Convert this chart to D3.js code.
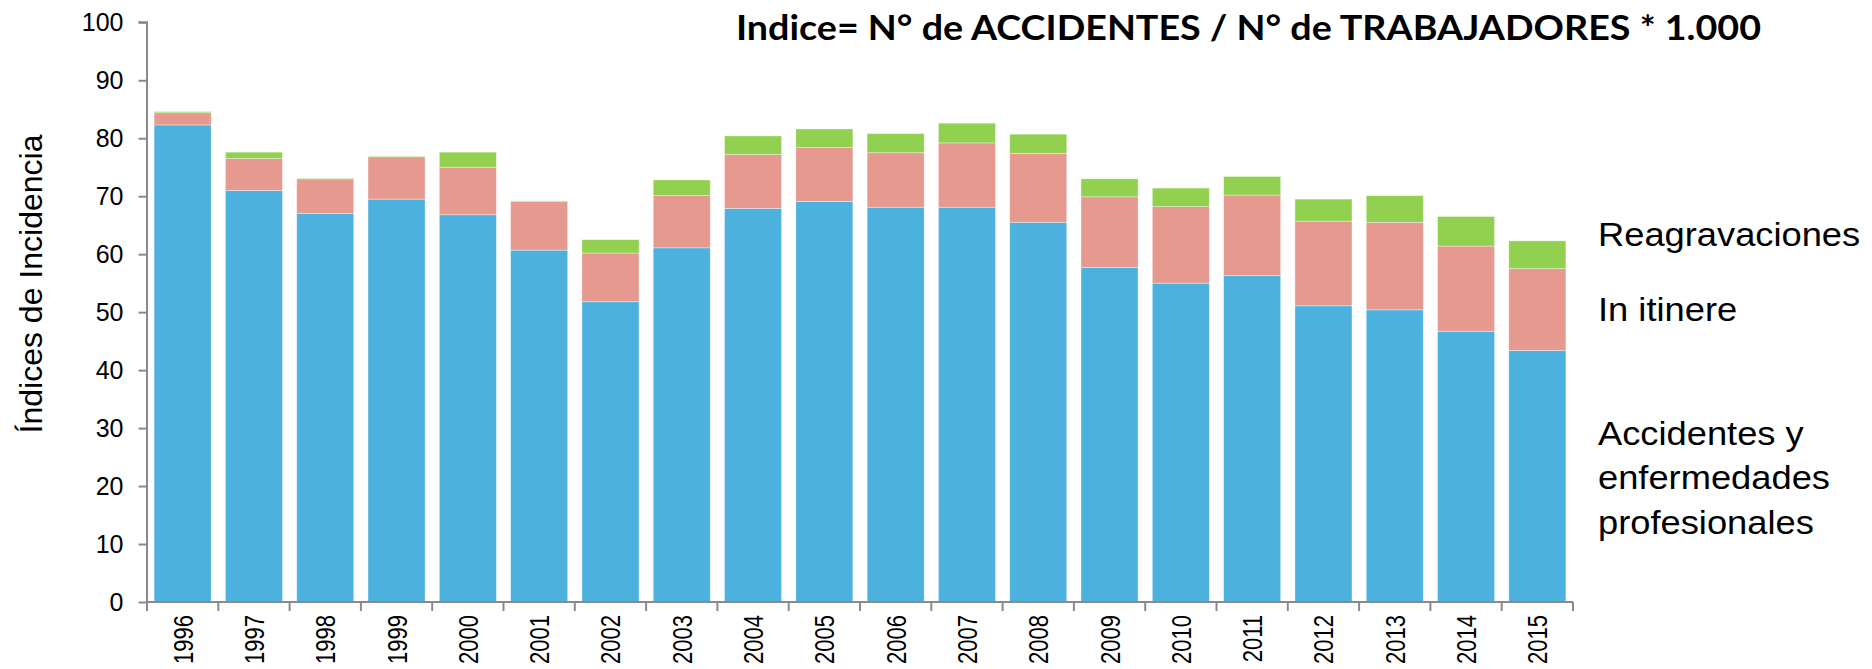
<!DOCTYPE html>
<html>
<head>
<meta charset="utf-8">
<script src="https://cdn.jsdelivr.net/npm/d3@7"></script>
<style>
  html, body { margin: 0; padding: 0; background: #ffffff; }
  svg { display: block; }
  text { font-family: "Liberation Sans", Arial, sans-serif; fill: #000; }
</style>
</head>
<body>
<svg id="chart" width="1872" height="669"></svg>
<script>
// ---- Data ----
const years = ["1996","1997","1998","1999","2000","2001","2002","2003","2004","2005",
               "2006","2007","2008","2009","2010","2011","2012","2013","2014","2015"];
const accidentes = [82.3, 71.0, 67.0, 69.5, 66.8, 60.7, 51.8, 61.1, 67.9, 69.1,
                    68.1, 68.1, 65.5, 57.7, 55.0, 56.3, 51.1, 50.4, 46.7, 43.4];
const itinere    = [2.1, 5.5, 6.0, 7.3, 8.2, 8.4, 8.4, 9.0, 9.3, 9.3,
                    9.4, 11.1, 11.9, 12.2, 13.2, 13.9, 14.6, 15.1, 14.7, 14.1];
const reagrav    = [0.2, 1.1, 0.1, 0.1, 2.6, 0.1, 2.3, 2.7, 3.2, 3.2,
                    3.3, 3.4, 3.3, 3.1, 3.2, 3.2, 3.8, 4.6, 5.1, 4.8];
const seriesKeys = ["accidentes", "itinere", "reagrav"];
const seriesColors = ["#4db1de", "#e6998f", "#92d050"];
const yTicks = [0, 10, 20, 30, 40, 50, 60, 70, 80, 90, 100];
const titleText = "Indice= N° de ACCIDENTES / N° de TRABAJADORES * 1.000";
const yTitle = "Índices de Incidencia";
const legendLabels = [["Reagravaciones"], ["In itinere"], ["Accidentes y", "enfermedades", "profesionales"]];

// ---- Build ----
const svg = d3.select("#chart");
const plotLeft = 147, plotRight = 1573, plotTop = 22.3, plotBottom = 602;

const x = d3.scaleBand().domain(years).range([plotLeft, plotRight]).paddingInner(0.2).paddingOuter(0.1);
const y = d3.scaleLinear().domain([0, 100]).range([plotBottom, plotTop]);

const table = years.map((yr, i) => ({ year: yr, accidentes: accidentes[i], itinere: itinere[i], reagrav: reagrav[i] }));
const stacked = d3.stack().keys(seriesKeys)(table);

svg.append("g").selectAll("g")
  .data(stacked).join("g")
  .attr("fill", (d, i) => seriesColors[i])
  .selectAll("rect")
  .data(d => d).join("rect")
  .attr("x", d => x(d.data.year))
  .attr("width", x.bandwidth())
  .attr("y", d => y(d[1]))
  .attr("height", d => y(d[0]) - y(d[1]))
  .attr("stroke", "#ffffff").attr("stroke-opacity", 0.45).attr("stroke-width", 0.8);

const axisColor = "#8a8a8a";

// Y axis
const yAxis = d3.axisLeft(y).tickValues(yTicks).tickSize(8.5).tickPadding(15);
const gy = svg.append("g").attr("transform", `translate(${plotLeft},0)`).call(yAxis);
gy.select(".domain").attr("stroke", axisColor).attr("stroke-width", 2).attr("d", `M-8.5,${y(100)}H0V${y(0)}`);
gy.selectAll(".tick line").attr("stroke", axisColor).attr("stroke-width", 2);
gy.selectAll(".tick text").style("font-size", "25px").style("font-family", "'Liberation Sans', Arial, sans-serif").attr("fill", "#000");

// X axis (ticks at category boundaries)
const boundaries = years.map(yr => x(yr) - x.step() * x.paddingInner() / 2);
boundaries.push(x(years[years.length - 1]) + x.bandwidth() + x.step() * x.paddingInner() / 2);
const gx = svg.append("g");
gx.append("line").attr("x1", plotLeft).attr("x2", plotRight).attr("y1", plotBottom).attr("y2", plotBottom)
  .attr("stroke", axisColor).attr("stroke-width", 2);
gx.selectAll("line.tk").data(boundaries).join("line").attr("class", "tk")
  .attr("x1", d => d).attr("x2", d => d).attr("y1", plotBottom).attr("y2", plotBottom + 9)
  .attr("stroke", axisColor).attr("stroke-width", 2);
gx.selectAll("text").data(years).join("text")
  .attr("transform", d => `translate(${x(d) + x.bandwidth() / 2 + 10},${plotBottom + 13}) rotate(-90) scale(1,1.22)`)
  .attr("text-anchor", "end")
  .style("font-size", "22px")
  .text(d => d);

// Y title
svg.append("text")
  .attr("transform", `translate(42,284) rotate(-90)`)
  .attr("text-anchor", "middle")
  .style("font-size", "32px")
  .text(yTitle);

// Title
svg.append("text")
  .attr("x", 736).attr("y", 40)
  .attr("textLength", 1025).attr("lengthAdjust", "spacingAndGlyphs")
  .style("font-family", "Lato, 'Open Sans', sans-serif")
  .style("font-weight", "bold")
  .style("font-size", "35px")
  .text(titleText);

// Legend labels
const legendBase = [246, 321, 445];
const lg = svg.append("g");
legendLabels.forEach((lines, i) => {
  lines.forEach((ln, j) => {
    lg.append("text")
      .attr("x", 1598).attr("y", legendBase[i] + j * 44.5)
      .attr("transform", `translate(1598,0) scale(1.1,1) translate(-1598,0)`)
      .style("font-size", "33px")
      .text(ln);
  });
});
</script>
</body>
</html>
